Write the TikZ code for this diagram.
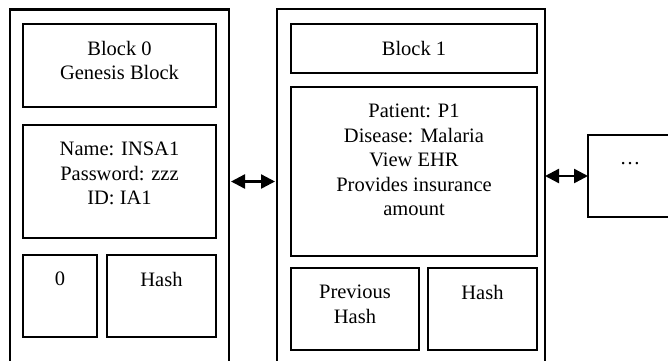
\documentclass[tikz,border=0pt]{standalone}
\usepackage{fontspec}
\setmainfont{Liberation Serif}
\usetikzlibrary{positioning,arrows.meta}

\tikzset{
  frame/.style={draw,line width=2.4pt,inner sep=0pt,outer sep=0pt,anchor=north west},
  cell/.style={draw,line width=2.8pt,inner sep=0pt,outer sep=0pt,anchor=north west},
  txt/.style={inner sep=0pt,outer sep=0pt,align=center,font=\fontsize{20.5}{24.5}\selectfont},
  link/.style={line width=2.4pt,{Triangle[length=14pt,width=14pt]}-{Triangle[length=14pt,width=14pt]}}
}

\begin{document}
\begin{tikzpicture}[x=1pt,y=-1pt]
\useasboundingbox (0,0) rectangle (668,360);
\clip (0,0) rectangle (668,360);

% Block 0
\node[frame,minimum width=219pt,minimum height=370pt] (blk0) at (10,9.5) {};
\node[cell,minimum width=193pt,minimum height=83pt] (head0) at (23,24) {};
\node[cell,minimum width=193pt,minimum height=113pt] (info0) at (23,125) {};
\node[cell,minimum width=74pt,minimum height=82pt] (idx0) at (23,255) {};
\node[cell,minimum width=109pt,minimum height=82pt] (hash0) at (107,255) {};
\node[txt,below=17pt of head0.north] (thead0) {Block 0\\Genesis Block};
\node[txt,below=17pt of info0.north] (tinfo0) {Name: INSA1\\Password: zzz\\ID: IA1};
\node[txt,below=17pt of idx0.north] (tidx0) {0};
\node[txt,below=17pt of hash0.north] (thash0) {Hash};

% Block 1
\node[frame,minimum width=268pt,minimum height=370pt] (blk1) at (277,9) {};
\node[cell,minimum width=246pt,minimum height=49pt] (head1) at (291,24) {};
\node[cell,minimum width=246pt,minimum height=169pt] (info1) at (291,87) {};
\node[cell,minimum width=128pt,minimum height=82pt] (prev1) at (291,268) {};
\node[cell,minimum width=109pt,minimum height=82pt] (hash1) at (428,268) {};
\node[txt,below=17pt of head1.north] (thead1) {Block 1};
\node[txt,below=17pt of info1.north] (tinfo1) {Patient: P1\\Disease: Malaria\\View EHR\\Provides insurance\\amount};
\node[txt,below=17pt of prev1.north] (tprev1) {Previous\\Hash};
\node[txt,below=17pt of hash1.north] (thash1) {Hash};

% next block
\node[frame,minimum width=84pt,minimum height=82pt] (more) at (588,135) {};
\node[txt,below=27pt of more.north] (tmore) {…};

% links
\draw[link,shorten <=2pt,shorten >=2pt] (blk0.east |- info0) -- (blk1.west |- info0);
\draw[link] (blk1.east |- more) -- (more.west);

\end{tikzpicture}
\end{document}
